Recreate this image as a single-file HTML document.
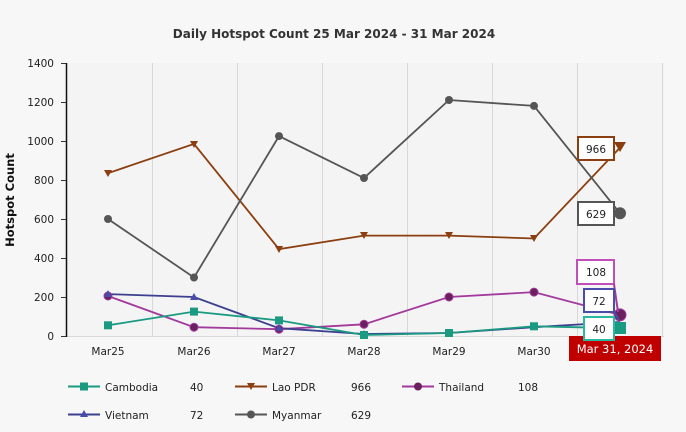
<!DOCTYPE html>
<html><head><style>
body{margin:0;background:#f7f7f7;}
svg{display:block;font-family:"DejaVu Sans","Liberation Sans",sans-serif;}
</style></head><body>
<svg width="686" height="432" viewBox="0 0 686 432" xmlns="http://www.w3.org/2000/svg">
<rect width="686" height="432" fill="#f7f7f7"/>
<rect x="66" y="63" width="598" height="273" fill="#f4f4f4"/>
<text x="334" y="38" text-anchor="middle" font-size="12" font-weight="bold" fill="#333">Daily Hotspot Count 25 Mar 2024 - 31 Mar 2024</text>
<g stroke="#d8d8d8" stroke-width="1">
<line x1="152.5" y1="63" x2="152.5" y2="336"/><line x1="237.5" y1="63" x2="237.5" y2="336"/>
<line x1="322.5" y1="63" x2="322.5" y2="336"/><line x1="407.5" y1="63" x2="407.5" y2="336"/>
<line x1="492.5" y1="63" x2="492.5" y2="336"/><line x1="577.5" y1="63" x2="577.5" y2="336"/>
<line x1="662.5" y1="63" x2="662.5" y2="336"/>
<line x1="66" y1="336.5" x2="664" y2="336.5"/>
</g>
<line x1="66.5" y1="63" x2="66.5" y2="337" stroke="#111" stroke-width="1.5"/>
<g stroke="#333"><line x1="61" y1="63.5" x2="66" y2="63.5"/><line x1="61" y1="102.5" x2="66" y2="102.5"/><line x1="61" y1="141.5" x2="66" y2="141.5"/><line x1="61" y1="180.5" x2="66" y2="180.5"/><line x1="61" y1="219.5" x2="66" y2="219.5"/><line x1="61" y1="258.5" x2="66" y2="258.5"/><line x1="61" y1="297.5" x2="66" y2="297.5"/><line x1="61" y1="336.5" x2="66" y2="336.5"/></g>
<g font-size="10.5" fill="#222" text-anchor="end">
<text x="54" y="67">1400</text><text x="54" y="106">1200</text><text x="54" y="145">1000</text><text x="54" y="184">800</text><text x="54" y="223">600</text><text x="54" y="262">400</text><text x="54" y="301">200</text><text x="54" y="340">0</text>
</g>
<text transform="translate(14,200) rotate(-90)" text-anchor="middle" font-size="11.5" font-weight="bold" fill="#111">Hotspot Count</text>
<g font-size="10.5" fill="#222" text-anchor="middle">
<text x="108" y="355">Mar25</text><text x="194" y="355">Mar26</text><text x="279" y="355">Mar27</text><text x="364" y="355">Mar28</text><text x="449" y="355">Mar29</text><text x="534" y="355">Mar30</text>
</g>
<rect x="569" y="336" width="92" height="25" fill="#c00000"/>
<text x="615" y="353" text-anchor="middle" font-size="11.5" fill="#fff">Mar 31, 2024</text>
<polyline fill="none" stroke="#8B3E0F" stroke-width="1.8" points="108,173.2 194,143.9 279,249.2 364,235.6 449,235.6 534,238.5 620,147.6"/>
<polyline fill="none" stroke="#555" stroke-width="1.8" points="108,219 194,277.5 279,136.1 364,178 449,100 534,105.9 620,213.3"/>
<polyline fill="none" stroke="#a23a9c" stroke-width="1.8" points="108,296 194,327.2 279,329.2 364,324.3 449,297 534,292.1 620,314.9"/>
<polyline fill="none" stroke="#3d3f8f" stroke-width="1.8" points="108,294.1 194,297 279,328.2 364,334 449,333 534,327.2 620,322"/>
<polyline fill="none" stroke="#1a9a80" stroke-width="1.8" points="108,325.3 194,311.6 279,320.4 364,335 449,333 534,326.3 620,328.2"/>
<g fill="#8B3E0F"><path d="M104,170 h8 l-4,7z"/><path d="M190,141 h8 l-4,7z"/><path d="M275,246 h8 l-4,7z"/><path d="M360,232 h8 l-4,7z"/><path d="M445,232 h8 l-4,7z"/><path d="M530,235 h8 l-4,7z"/><path d="M614,142 h12 l-6,10z"/></g>
<g fill="#555"><circle cx="108" cy="219" r="4"/><circle cx="194" cy="277.5" r="4"/><circle cx="279" cy="136.1" r="4"/><circle cx="364" cy="178" r="4"/><circle cx="449" cy="100" r="4"/><circle cx="534" cy="105.9" r="4"/><circle cx="620" cy="213.3" r="6"/></g>
<g fill="#6a1f5e" stroke="#a23a9c"><circle cx="108" cy="296" r="4"/><circle cx="194" cy="327.2" r="4"/><circle cx="279" cy="329.2" r="4"/><circle cx="364" cy="324.3" r="4"/><circle cx="449" cy="297" r="4"/><circle cx="534" cy="292.1" r="4"/><circle cx="620" cy="314.9" r="6"/></g>
<g fill="#4a4caa"><path d="M108,290 l4,7 h-8z"/><path d="M194,293 l4,7 h-8z"/><path d="M279,324 l4,7 h-8z"/><path d="M364,330 l4,7 h-8z"/><path d="M449,329 l4,7 h-8z"/><path d="M534,323 l4,7 h-8z"/></g>
<g fill="#1a9a80"><rect x="104" y="321.3" width="8" height="8"/><rect x="190" y="307.6" width="8" height="8"/><rect x="275" y="316.4" width="8" height="8"/><rect x="360" y="331" width="8" height="8"/><rect x="445" y="329" width="8" height="8"/><rect x="530" y="322.3" width="8" height="8"/><rect x="614" y="322" width="12" height="12"/></g>
<g font-size="10.5" fill="#222" text-anchor="middle" stroke-width="2">
<rect x="578" y="137" width="36" height="23" fill="#fff" stroke="#8B3E0F"/><text x="596" y="153">966</text>
<rect x="578" y="202" width="36" height="23" fill="#fff" stroke="#555"/><text x="596" y="218">629</text>
<rect x="577" y="260" width="37" height="24" fill="#fff" stroke="#c050b8"/><text x="596" y="276">108</text>
<line x1="614" y1="284" x2="618" y2="312" stroke="#a23a9c"/>
<rect x="584" y="289" width="30" height="23" fill="#fff" stroke="#4a4caa"/><text x="599" y="305">72</text>
<line x1="614" y1="312" x2="619" y2="320" stroke="#4a4caa"/>
<rect x="584" y="317" width="30" height="23" fill="#fff" stroke="#2ab8a0"/><text x="599" y="333">40</text>
</g>
<g font-size="10.5" fill="#222">
<line x1="68" y1="386.5" x2="100" y2="386.5" stroke="#1a9a80" stroke-width="2"/><rect x="80" y="382.5" width="8" height="8" fill="#1a9a80"/><text x="105" y="391">Cambodia</text><text x="190" y="391">40</text>
<line x1="235" y1="386.5" x2="267" y2="386.5" stroke="#8B3E0F" stroke-width="2"/><path d="M247,383 h8 l-4,7z" fill="#8B3E0F"/><text x="272" y="391">Lao PDR</text><text x="351" y="391">966</text>
<line x1="402" y1="386.5" x2="434" y2="386.5" stroke="#a23a9c" stroke-width="2"/><circle cx="418" cy="386.5" r="4" fill="#6a1f5e"/><text x="439" y="391">Thailand</text><text x="518" y="391">108</text>
<line x1="68" y1="414.5" x2="100" y2="414.5" stroke="#3d3f8f" stroke-width="2"/><path d="M84,410 l4,7 h-8z" fill="#4a4caa"/><text x="105" y="419">Vietnam</text><text x="190" y="419">72</text>
<line x1="235" y1="414.5" x2="267" y2="414.5" stroke="#555" stroke-width="2"/><circle cx="251" cy="414.5" r="4" fill="#555"/><text x="272" y="419">Myanmar</text><text x="351" y="419">629</text>
</g>
</svg>
</body></html>
